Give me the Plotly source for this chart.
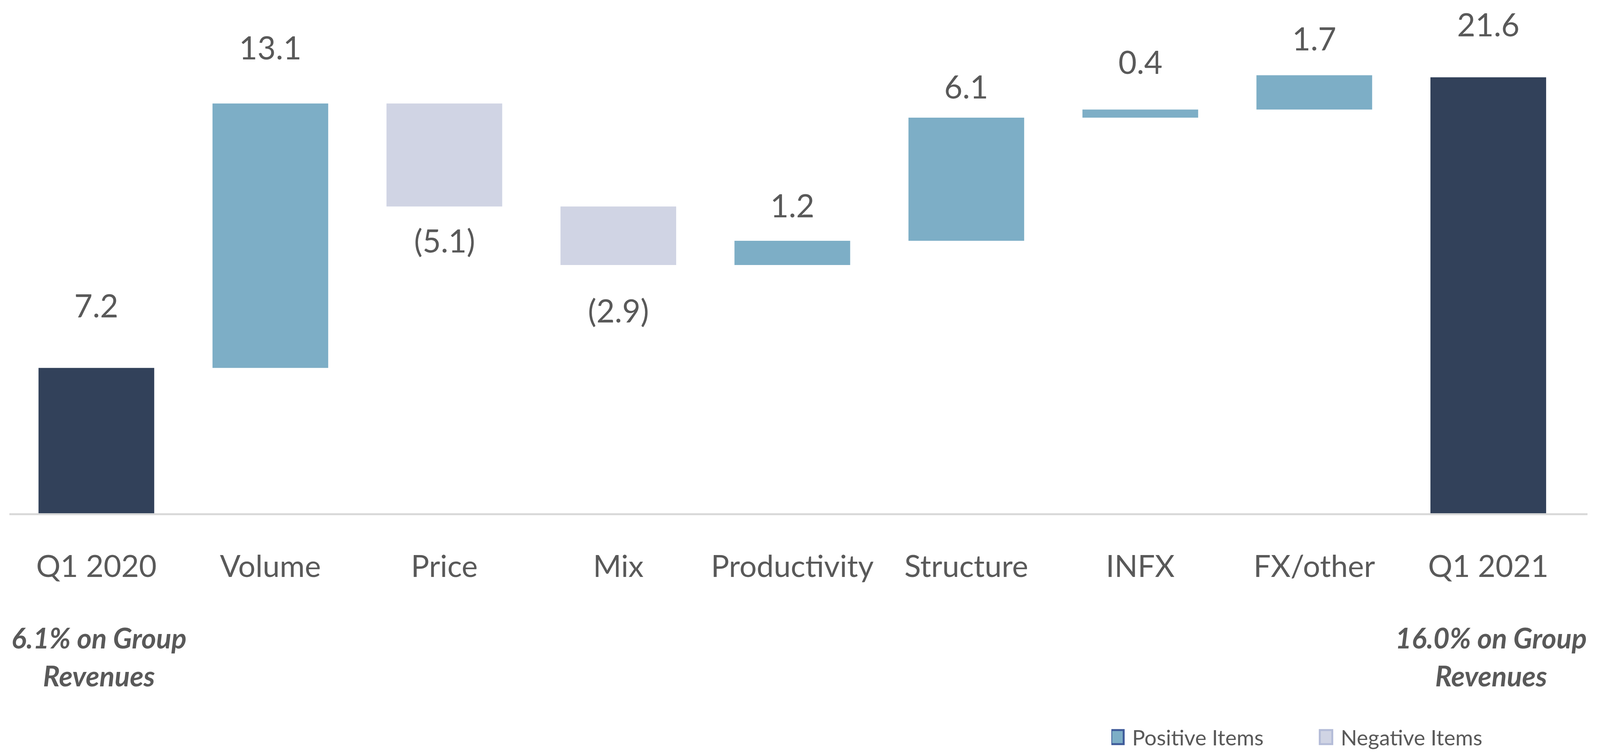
import plotly.graph_objects as go

# ---- data ----
categories = ["Q1 2020", "Volume", "Price", "Mix", "Productivity",
              "Structure", "INFX", "FX/other", "Q1 2021"]
start_value = 7.2
deltas = [13.1, -5.1, -2.9, 1.2, 6.1, 0.4, 1.7]
end_value = 21.6
start_note = ["6.1% on Group", "Revenues"]
end_note = ["16.0% on Group", "Revenues"]

# ---- style ----
C_TOTAL = "#32415A"
C_POS = "#7DAEC6"
C_NEG = "#D0D4E4"
C_TEXT = "#595959"
FONT = "Lato, 'Open Sans', sans-serif"
# distance (px) from bar end to label centre, as placed in the original
label_gap_px = [161, 144, 86, 116, 91, 81, 123, 95, 136]
note_line_y = [-0.2424, -0.316]   # paper y of the two note lines


def fmt(v):
    return f"({abs(v):.1f})" if v < 0 else f"{v:.1f}"


# running bases
pos_x, pos_base, pos_y = [], [], []
neg_x, neg_base, neg_y = [], [], []
bar_ends = [start_value]
running = start_value
for cat, d in zip(categories[1:-1], deltas):
    if d >= 0:
        pos_x.append(cat); pos_base.append(running); pos_y.append(d)
    else:
        neg_x.append(cat); neg_base.append(running); neg_y.append(d)
    running += d
    bar_ends.append(running)
bar_ends.append(end_value)
values = [start_value] + deltas + [end_value]

fig = go.Figure()
fig.add_trace(go.Bar(x=[categories[0], categories[-1]], y=[start_value, end_value],
                     marker=dict(color=C_TOTAL, line=dict(width=0)),
                     width=0.665, showlegend=False, hoverinfo="skip"))
fig.add_trace(go.Bar(x=pos_x, y=pos_y, base=pos_base, name="Positive Items",
                     marker=dict(color=C_POS, line=dict(width=0, color="#3F5B9A")),
                     width=0.665))
fig.add_trace(go.Bar(x=neg_x, y=neg_y, base=neg_base, name="Negative Items",
                     marker=dict(color=C_NEG, line=dict(width=0, color="#B4BCD8")),
                     width=0.665))

annotations = []
for cat, v, end, gap in zip(categories, values, bar_ends, label_gap_px):
    annotations.append(dict(
        x=cat, y=end, xref="x", yref="y", text=fmt(v), showarrow=False,
        yanchor="middle", yshift=(gap if v >= 0 else -gap),
        font=dict(family=FONT, size=81, color=C_TEXT)))

for cat, note in [(categories[0], start_note), (categories[-1], end_note)]:
    for line, ly in zip(note, note_line_y):
        annotations.append(dict(
            x=cat, y=ly, xref="x", yref="paper", text=line, showarrow=False,
            xanchor="center", yanchor="middle", xshift=7,
            font=dict(family=FONT, size=72, color=C_TEXT, weight="bold", style="italic")))

fig.update_layout(
    width=4096, height=1929,
    margin=dict(l=24, r=32, t=0, b=584),
    paper_bgcolor="white", plot_bgcolor="white",
    barmode="overlay",
    font=dict(family=FONT, color=C_TEXT),
    xaxis=dict(categoryorder="array", categoryarray=categories,
               showline=True, linecolor="#D9D9D9", linewidth=5,
               showgrid=False, zeroline=False, ticks="",
               ticklabelstandoff=64,
               tickfont=dict(family=FONT, size=78, color=C_TEXT)),
    yaxis=dict(visible=False, range=[0, 25.43], showgrid=False, zeroline=False),
    showlegend=True,
    legend=dict(orientation="h", x=0.6983, xanchor="left", y=-0.4364, yanchor="middle",
                font=dict(family=FONT, size=55, color=C_TEXT),
                itemwidth=43, entrywidth=476, entrywidthmode="pixels",
                bgcolor="rgba(0,0,0,0)", traceorder="normal"),
    annotations=annotations,
)

post = """
document.body.style.margin = '0';
var gd = document.getElementById('{plot_id}');
var strokes = ['#3F5B9A', '#B4BCD8'];
var items = gd.querySelectorAll('.legend .traces');
items.forEach(function(t, i){
  t.querySelectorAll('g.legendpoints path').forEach(function(p){
    p.setAttribute('d', 'M5,18H-27V-18H5Z');
    p.style.stroke = strokes[i % 2];
    p.style.strokeWidth = '5px';
  });
});
"""

fig.write_html("out.html", post_script=post, config={"displayModeBar": False})
